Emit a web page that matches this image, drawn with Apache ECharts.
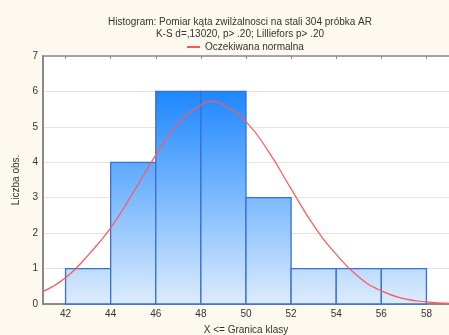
<!DOCTYPE html>
<html>
<head>
<meta charset="utf-8">
<script src="https://cdn.jsdelivr.net/npm/echarts@6/dist/echarts.min.js"></script>
<style>
html,body{margin:0;padding:0;background:#fdf9ef;}
#c{width:449px;height:335px;}
</style>
</head>
<body>
<div id="c"></div>
<script>
// Histogram data
var binStarts = [42, 44, 46, 48, 50, 52, 54, 56];
var binWidth = 2;
var counts = [1, 4, 6, 6, 3, 1, 1, 1];
// Expected normal curve
var curveX = [41, 42, 43, 44, 45, 46, 47, 48, 48.5, 49, 50, 51, 52, 53, 54, 55, 56, 57, 58, 59];
var curveY = [0.35, 0.74, 1.38, 2.15, 3.15, 4.2, 5.1, 5.62, 5.72, 5.62, 5.15, 4.3, 3.25, 2.22, 1.4, 0.76, 0.37, 0.15, 0.06, 0.02];
var xTicks = [42, 44, 46, 48, 50, 52, 54, 56, 58];
var titleText = 'Histogram: Pomiar kąta zwilżalnosci na stali 304 próbka AR';
var subText = 'K-S d=,13020, p> .20; Lilliefors p> .20';
var legendName = 'Oczekiwana normalna';

var chart = echarts.init(document.getElementById('c'), null, {renderer: 'canvas'});
var font = 'Liberation Sans, Arial, sans-serif';
var barData = binStarts.map(function (s, i) { return [s, s + binWidth, counts[i]]; });
var lineData = curveX.map(function (x, i) { return [x, curveY[i]]; });

var option = {
  backgroundColor: '#fdf9ef',
  animation: false,
  textStyle: {fontFamily: font},
  title: [{
    text: titleText,
    subtext: subText,
    left: 235, top: 12, textAlign: 'center',
    itemGap: 2,
    textStyle: {fontSize: 10, fontWeight: 'normal', color: '#333', fontFamily: font},
    subtextStyle: {fontSize: 10, color: '#333', fontFamily: font}
  }],
  legend: {
    top: 37, left: 182,
    itemWidth: 13, itemHeight: 2, itemGap: 4,
    textStyle: {fontSize: 10, color: '#333', fontFamily: font},
    data: [{name: legendName, icon: 'rect'}]
  },
  grid: {left: 43, top: 56, right: 0, bottom: 31, show: true, backgroundColor: '#ffffff', borderWidth: 0,
         containLabel: false, outerBoundsMode: 'none'},
  xAxis: [{
    type: 'value', min: 41, max: 59,
    name: 'X <= Granica klasy', nameLocation: 'middle', nameGap: 21,
    nameTextStyle: {fontSize: 10, color: '#333'},
    axisLine: {show: true, lineStyle: {color: '#8a8a8a', width: 2}},
    axisTick: {show: false},
    axisLabel: {customValues: xTicks, fontSize: 10, color: '#333', margin: 5},
    splitLine: {show: false}
  }, {
    type: 'value', min: 41, max: 59, position: 'top',
    axisLine: {show: true, onZero: false, lineStyle: {color: '#8a8a8a', width: 1.5}},
    axisTick: {show: true, inside: true, length: 3, customValues: xTicks, lineStyle: {color: '#8a8a8a'}},
    axisLabel: {show: false},
    splitLine: {show: false}
  }],
  yAxis: {
    type: 'value', min: 0, max: 7, interval: 1,
    name: 'Liczba obs.', nameLocation: 'middle', nameGap: 16, nameRotate: 90,
    nameTextStyle: {fontSize: 10, color: '#333'},
    axisLine: {show: true, lineStyle: {color: '#8a8a8a', width: 2}},
    axisTick: {show: false},
    axisLabel: {fontSize: 10, color: '#333', margin: 5},
    splitLine: {show: true, lineStyle: {color: '#e4e4e4', width: 1.2}}
  },
  series: [{
    type: 'custom',
    name: 'hist',
    z: 2,
    data: barData,
    renderItem: function (params, api) {
      var p0 = api.coord([api.value(0), api.value(2)]);
      var p1 = api.coord([api.value(1), 0]);
      var top = api.coord([41, 6])[1];
      var bot = api.coord([41, 0])[1];
      var grad = new echarts.graphic.LinearGradient(0, top, 0, bot, [
        {offset: 0, color: '#1e87ff'},
        {offset: 1, color: '#dcecfd'}
      ], true);
      return {
        type: 'rect',
        shape: {x: p0[0], y: p0[1], width: p1[0] - p0[0], height: p1[1] - p0[1]},
        style: {fill: grad, stroke: '#3a6fd8', lineWidth: 1.3}
      };
    }
  }, {
    type: 'line',
    name: legendName,
    z: 5,
    data: lineData,
    smooth: true,
    symbol: 'none',
    lineStyle: {color: '#ff5757', width: 1.2},
    itemStyle: {color: '#ff5757'}
  }]
};
chart.setOption(option);
</script>
</body>
</html>
